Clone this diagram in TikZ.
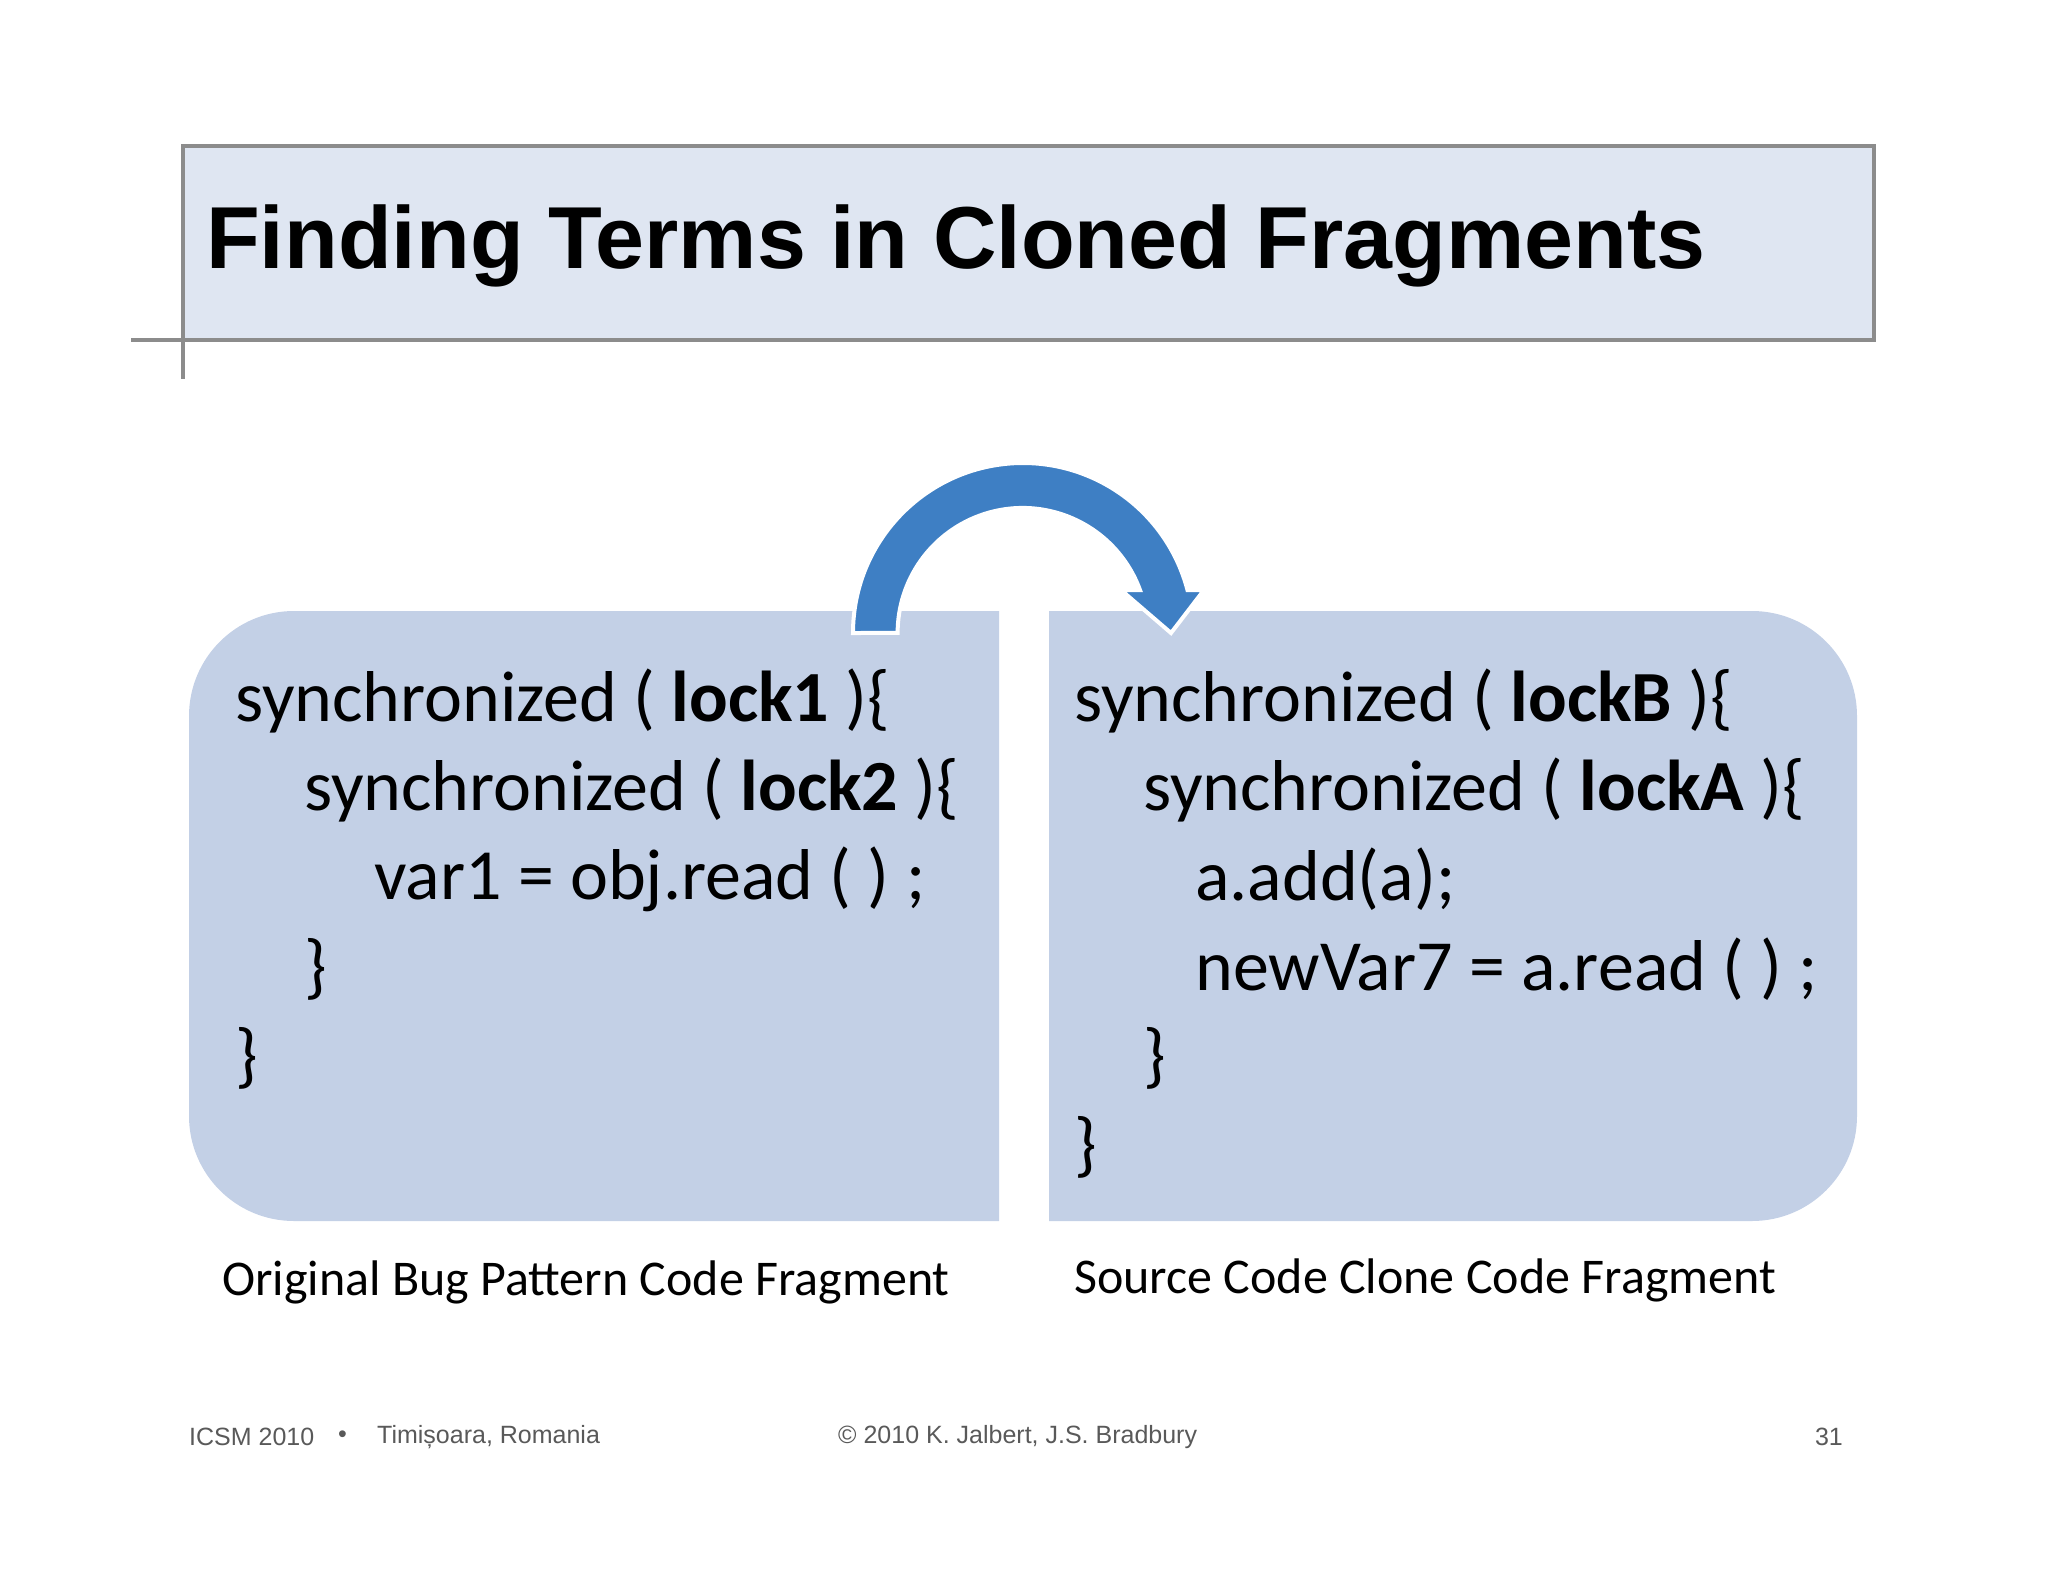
\documentclass[tikz,border=0pt]{standalone}
\usepackage{fontspec}
\setmainfont{Liberation Sans}
\newfontfamily\codefont{Carlito}
\begin{document}
\begin{tikzpicture}[x=1pt,y=1pt,
  code/.style={anchor=west,inner sep=0pt,font=\codefont\fontsize{72}{80}\selectfont},
  captext/.style={anchor=west,inner sep=0pt,font=\codefont\fontsize{50}{56}\selectfont},
  foot/.style={anchor=west,inner sep=0pt,text=black!65,font=\fontsize{25}{28}\selectfont}]
\definecolor{titlefill}{HTML}{DFE6F2}
\definecolor{boxfill}{HTML}{C3D0E6}
\definecolor{arrowblue}{HTML}{3E7FC4}
\useasboundingbox (0,0) rectangle (2048,-1582);
% title
\draw[line width=4,draw=black!45,fill=titlefill] (183,-146) rectangle (1874,-340);
\draw[line width=4,draw=black!45] (131,-340) -- (183,-340) (183,-340) -- (183,-379);
\node[anchor=west,inner sep=0pt,font=\bfseries\fontsize{88}{96}\selectfont] (title) at (206,-246) {Finding Terms in Cloned Fragments};
% boxes
\fill[boxfill] (999,-611) -- (294,-611) arc[start angle=90,end angle=180,radius=105] -- (189,-1116) arc[start angle=180,end angle=270,radius=105] -- (999,-1221) -- cycle;
\fill[boxfill] (1049,-611) -- (1752,-611) arc[start angle=90,end angle=0,radius=105] -- (1857,-1116) arc[start angle=0,end angle=-90,radius=105] -- (1049,-1221) -- cycle;
% arrow
\filldraw[fill=arrowblue,draw=white,line width=4]
 (853,-633) arc[start angle=180,end angle=14.6,radius=170] -- (1204,-590) -- (1171,-633) -- (1121,-590) -- (1140,-590) arc[start angle=20.1,end angle=180,radius=125] -- cycle;
% left code
\node[code] (l1) at (235,-701) {synchronized ( \textbf{lock1} )\{};
\node[code] (l2) at (304,-790) {synchronized ( \textbf{lock2} )\{};
\node[code] (l3) at (374,-879) {var1 = obj.read ( ) ;};
\node[code] (l4) at (304,-969) {\}};
\node[code] (l5) at (235,-1058) {\}};
% right code
\node[code] (r1) at (1074,-701) {synchronized ( \textbf{lockB} )\{};
\node[code] (r2) at (1143,-790) {synchronized ( \textbf{lockA} )\{};
\node[code] (r3) at (1195,-879) {a.add(a);};
\node[code] (r4) at (1195,-969) {newVar7 = a.read ( ) ;};
\node[code] (r5) at (1143,-1058) {\}};
\node[code] (r6) at (1074,-1147) {\}};
% captions
\node[captext] (c1) at (222,-1282) {Original Bug Pattern Code Fragment};
\node[captext] (c2) at (1074,-1280) {Source Code Clone Code Fragment};
% footer
\node[foot] (f1) at (189,-1437) {ICSM 2010};
\node[foot] (f2) at (338,-1437) {•};
\node[foot] (f3) at (377,-1437) {Timișoara, Romania};
\node[foot] (f4) at (838,-1437) {© 2010 K. Jalbert, J.S. Bradbury};
\node[foot,anchor=east] (f5) at (1843,-1437) {31};
\end{tikzpicture}
\end{document}
